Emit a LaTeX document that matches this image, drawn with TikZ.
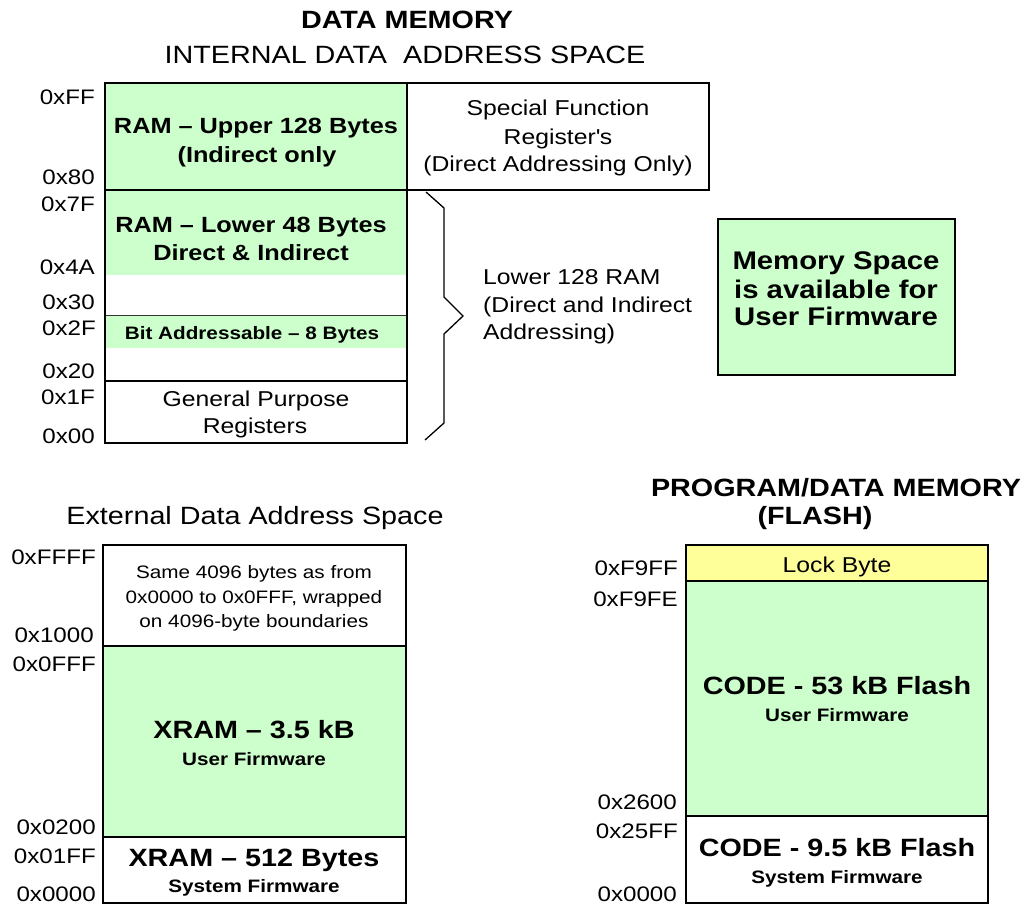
\documentclass[tikz,border=0pt]{standalone}
\usepackage{fontspec}
\setmainfont{Liberation Sans}[FakeStretch=1.15]
\definecolor{memgreen}{HTML}{CCFFCC}
\definecolor{lockyellow}{HTML}{FFFF99}
\tikzset{
  region/.style={rectangle, draw=black, line width=2pt, anchor=north west,
    inner sep=0pt, outer sep=0pt},
  band/.style={rectangle, draw=none, anchor=north west, inner sep=0pt, outer sep=0pt},
  addr/.style={anchor=base east, inner sep=0pt, font=\fontsize{21}{25}\selectfont},
  lbl/.style={anchor=base, inner sep=0pt, font=\fontsize{21.5}{26}\selectfont},
  lblw/.style={anchor=base west, inner sep=0pt, font=\fontsize{21.5}{26}\selectfont},
  blbl/.style={anchor=base, inner sep=0pt, font=\fontsize{22}{26}\selectfont\bfseries},
  big/.style={anchor=base, inner sep=0pt, font=\fontsize{25}{30}\selectfont\bfseries},
  small/.style={anchor=base, inner sep=0pt, font=\fontsize{18}{22}\selectfont\bfseries},
  note/.style={anchor=base, inner sep=0pt, font=\fontsize{18}{22}\selectfont},
  heading/.style={anchor=base, inner sep=0pt, font=\fontsize{25}{30}\selectfont},
  bracket/.style={line width=1.3pt},
}
\begin{document}
\begin{tikzpicture}[x=1pt, y=-1pt]
\useasboundingbox (0,0) rectangle (1034,905);

% ---------- internal data memory ----------
\node[heading] (tdata) at (407,28) {\bfseries DATA MEMORY};
\node[heading] (tint) at (405,63) {INTERNAL DATA\ \ ADDRESS SPACE};

\node[band, fill=memgreen, minimum width=302pt, minimum height=85pt] (lower48) at (105,190) {};
\node[band, fill=memgreen, minimum width=302pt, minimum height=33pt] (bitaddr) at (105,315) {};
\draw[line width=1pt, black!80] (105,315) -- (407,315);
\node[region, minimum width=302pt, minimum height=253pt] (lowram) at (105,190) {};
\node[region, minimum width=302pt, minimum height=62pt] (gpreg) at (105,381) {};
\node[region, fill=memgreen, minimum width=302pt, minimum height=107pt] (ramup) at (105,83) {};
\node[region, minimum width=302pt, minimum height=107pt] (sfr) at (407,83) {};

\node[blbl] (ramup1) at (256,133) {RAM – Upper 128 Bytes};
\node[blbl] (ramup2) at (257,162) {(Indirect only};
\node[blbl] (low1) at (251,232) {RAM – Lower 48 Bytes};
\node[blbl] (low2) at (251,260) {Direct \& Indirect};
\node[small] (bit1) at (252,339) {Bit Addressable – 8 Bytes};
\node[lbl] (gp1) at (256,406) {General Purpose};
\node[lbl] (gp2) at (255,433) {Registers};

\node[lbl] (sfr1) at (558,115) {Special Function};
\node[lbl] (sfr2) at (558,144) {Register\textquotesingle s};
\node[lbl] (sfr3) at (558,171) {(Direct Addressing Only)};

\node[addr] (aFF) at (95,104) {0xFF};
\node[addr] (a80) at (95,184) {0x80};
\node[addr] (a7F) at (95,211) {0x7F};
\node[addr] (a4A) at (95,274) {0x4A};
\node[addr] (a30) at (95,309) {0x30};
\node[addr] (a2F) at (96,335) {0x2F};
\node[addr] (a20) at (95,378) {0x20};
\node[addr] (a1F) at (95,404) {0x1F};
\node[addr] (a00) at (95,443) {0x00};

% brace spanning the lower 128 bytes
\coordinate (brtop) at (426,192);
\coordinate (brtip) at (463,316);
\coordinate (brbot) at (425,440);
\draw[bracket] (brtop) -- (444,208) -- (444,297) -- (brtip) -- (444,334) -- (444,423) -- (brbot);
\node[lblw] (lr1) at (483,284) {Lower 128 RAM};
\node[lblw] (lr2) at (483,312) {(Direct and Indirect};
\node[lblw] (lr3) at (483,339) {Addressing)};

% ---------- free space note ----------
\node[region, fill=memgreen, minimum width=237pt, minimum height=156pt] (userbox) at (718,219) {};
\node[big, font=\fontsize{25.5}{30}\selectfont\bfseries] (ub1) at (836,269) {Memory Space};
\node[big, font=\fontsize{25.5}{30}\selectfont\bfseries] (ub2) at (836,298) {is available for};
\node[big, font=\fontsize{25.5}{30}\selectfont\bfseries] (ub3) at (836,325) {User Firmware};

% ---------- external data memory ----------
\node[heading] (text) at (255,524) {External Data Address Space};
\node[region, minimum width=303pt, minimum height=101pt] (xwrap) at (103,545) {};
\node[region, fill=memgreen, minimum width=303pt, minimum height=191pt] (xuser) at (103,646) {};
\node[region, minimum width=303pt, minimum height=66pt] (xsys) at (103,837) {};

\node[note] (xw1) at (254,578) {Same 4096 bytes as from};
\node[note] (xw2) at (254,603) {0x0000 to 0x0FFF, wrapped};
\node[note] (xw3) at (254,627) {on 4096-byte boundaries};
\node[big] (xu1) at (254,738) {XRAM – 3.5 kB};
\node[small] (xu2) at (254,765) {User Firmware};
\node[big] (xs1) at (254,866) {XRAM – 512 Bytes};
\node[small] (xs2) at (254,892) {System Firmware};

\node[addr] (xFFFF) at (96,564) {0xFFFF};
\node[addr] (x1000) at (94,642) {0x1000};
\node[addr] (x0FFF) at (96,671) {0x0FFF};
\node[addr] (x0200) at (96,834) {0x0200};
\node[addr] (x01FF) at (96,863) {0x01FF};
\node[addr] (x0000) at (96,901) {0x0000};

% ---------- program / data flash ----------
\node[big] (tprog) at (836,496) {PROGRAM/DATA MEMORY};
\node[big] (tflash) at (815,524) {(FLASH)};
\node[region, fill=memgreen, minimum width=302pt, minimum height=235pt] (cuser) at (686,581) {};
\node[region, minimum width=302pt, minimum height=87pt] (csys) at (686,816) {};
\node[region, fill=lockyellow, minimum width=302pt, minimum height=36pt] (lock) at (686,545) {};

\node[lbl] (lock1) at (837,572) {Lock Byte};
\node[big] (cu1) at (837,694) {CODE - 53 kB Flash};
\node[small] (cu2) at (837,721) {User Firmware};
\node[big] (cs1) at (837,856) {CODE - 9.5 kB Flash};
\node[small] (cs2) at (837,883) {System Firmware};

\node[addr] (cF9FF) at (678,575) {0xF9FF};
\node[addr] (cF9FE) at (678,606) {0xF9FE};
\node[addr] (c2600) at (677,809) {0x2600};
\node[addr] (c25FF) at (678,838) {0x25FF};
\node[addr] (c0000) at (677,901) {0x0000};
\end{tikzpicture}
\end{document}
